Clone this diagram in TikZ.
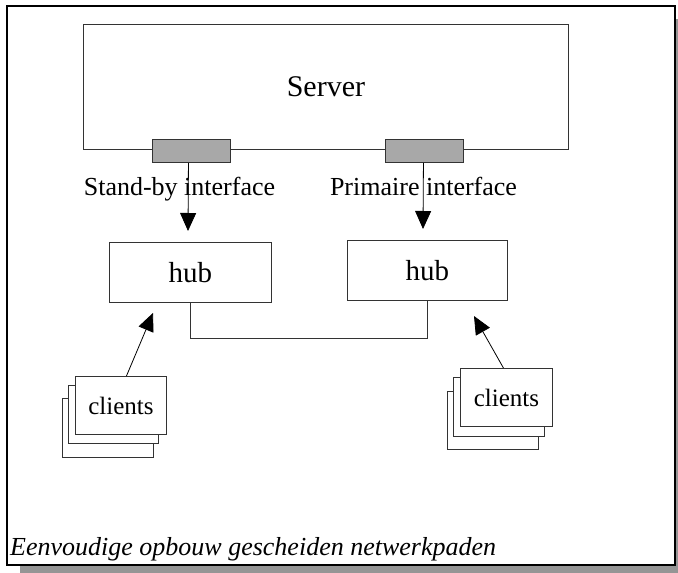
\documentclass[tikz,border=0pt]{standalone}
\usepackage{fontspec}
\setmainfont{Liberation Serif}
\usetikzlibrary{arrows.meta}
\definecolor{ifgray}{HTML}{A8A8A8}
\definecolor{shadowgray}{HTML}{959595}
\definecolor{linegray}{HTML}{333333}
\begin{document}
\begin{tikzpicture}[x=1pt,y=-1pt,
  box/.style={draw=linegray, line width=0.9pt, fill=white, inner sep=0pt, anchor=north west},
  ifbox/.style={draw=linegray, line width=0.9pt, fill=ifgray, inner sep=0pt, anchor=north west, minimum width=78pt, minimum height=23pt},
  lbl/.style={inner sep=0pt, anchor=base, font=\fontsize{26}{30}\selectfont},
  arr/.style={draw=black, line width=0.8pt, -{Triangle[length=18pt,width=16pt]}},
  link/.style={draw=linegray, line width=0.9pt}]
\useasboundingbox (0,0) rectangle (678,573);
% shadow and frame
\fill[shadowgray] (20,19) rectangle (680,575);
\draw[line width=1.6pt, fill=white] (7,6) rectangle (675,565);
% server
\node[box, minimum width=485pt, minimum height=125pt, font=\fontsize{30}{36}\selectfont] (server) at (83,24) {Server};
\node[ifbox] (ifL) at (152,139) {};
\node[ifbox] (ifR) at (385,139) {};
% labels
\node[lbl] (lblL) at (179.5,195) {Stand-by interface};
\node[lbl] (lblR) at (423.5,195) {Primaire interface};
% hubs
\node[box, minimum width=162pt, minimum height=60pt, font=\fontsize{29}{34}\selectfont] (hubL) at (109,242) {hub};
\node[box, minimum width=160pt, minimum height=60pt, font=\fontsize{29}{34}\selectfont] (hubR) at (347,240) {hub};
% arrows interfaces -> hubs
\coordinate (tipIL) at (188,231);
\coordinate (tipIR) at (423,229);
\draw[arr] ([xshift=-3pt]ifL.south) -- (tipIL);
\draw[arr] ([xshift=-1pt]ifR.south) -- (tipIR);
% hub link
\draw[link] (hubL.south) -- ++(0,36) -| (hubR.south);
% left client stack
\node[box, minimum width=91pt, minimum height=59pt] (cL3) at (62,398) {};
\node[box, minimum width=90pt, minimum height=58pt] (cL2) at (68,385) {};
\node[box, minimum width=91pt, minimum height=58pt, font=\fontsize{25}{30}\selectfont] (cL1) at (75,376) {clients};
% right client stack
\node[box, minimum width=91pt, minimum height=58pt] (cR3) at (447,391) {};
\node[box, minimum width=91pt, minimum height=59pt] (cR2) at (453,377) {};
\node[box, minimum width=92pt, minimum height=58pt, font=\fontsize{25}{30}\selectfont] (cR1) at (460,368) {clients};
% client arrows
\coordinate (tipL) at (153,313);
\coordinate (tipR) at (474,316);
\draw[arr] ([xshift=5.5pt]cL1.north) -- (tipL);
\draw[arr] ([xshift=-3pt]cR1.north) -- (tipR);
% caption
\node[inner sep=0pt, anchor=base west, font=\fontsize{26}{30}\selectfont\itshape] (caption) at (10,555) {Eenvoudige opbouw gescheiden netwerkpaden};
\end{tikzpicture}
\end{document}
